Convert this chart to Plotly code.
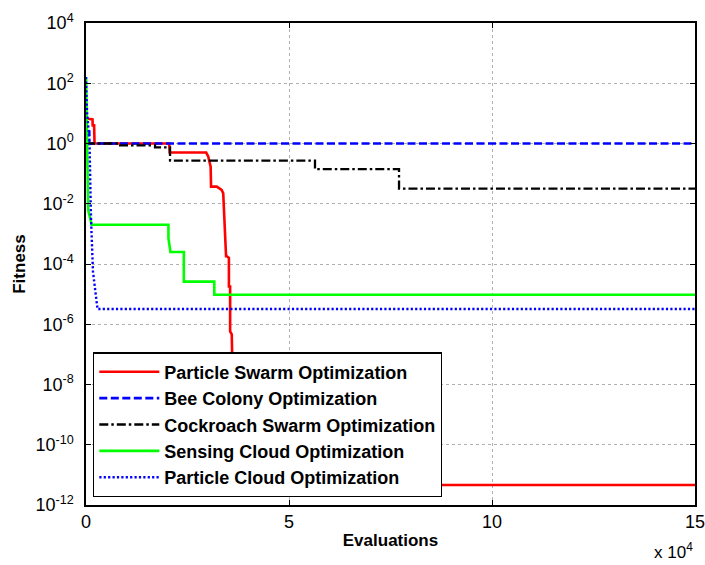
import plotly.graph_objects as go

# Evaluation counts and best fitness found, per optimizer
pso_x = [0, 600, 1600, 1650, 2000, 2100, 20500, 20600, 29600, 30100, 30700, 30800,
         32200, 33400, 33800, 34100, 34500, 34700, 35200, 35200, 35500, 35500,
         35900, 36000, 36200, 36500, 150000]
pso_y = [7.1, 6.6, 6.3, 4.0, 4.0, 1.0, 1.0, 0.50, 0.50, 0.37, 0.17, 0.037,
         0.037, 0.029, 0.022, 0.0026, 1.8e-4, 1.8e-4, 1.6e-4, 1.8e-5, 1.8e-5, 5.8e-7,
         4.6e-7, 1.0e-7, 1.0e-9, 4.6e-12, 4.6e-12]

bee_x = [0, 800, 800, 150000]
bee_y = [2.5, 2.5, 1.0, 1.0]

cso_x = [0, 8400, 17000, 20700, 56400, 77100, 150000]
cso_y = [1.0, 0.86, 0.74, 0.27, 0.14, 0.032, 0.032]

sco_x = [0, 200, 300, 550, 1400, 20300, 20300, 20800, 24100, 24100, 31600, 31600, 150000]
sco_y = [160, 3.0, 0.6, 0.006, 0.002, 0.002, 7.2e-4, 2.5e-4, 2.5e-4, 2.6e-5, 2.6e-5, 9.5e-6, 9.5e-6]

pco_x = [0, 250, 860, 1230, 1720, 2340, 2830, 150000]
pco_y = [160, 11.5, 1.2, 0.0033, 5.6e-5, 1.2e-5, 3.2e-6, 3.2e-6]

# Axis ticks
x_tickvals = [0, 50000, 100000, 150000]
x_ticktext = ["0", "5", "10", "15"]
y_exponents = [-12, -10, -8, -6, -4, -2, 0, 2, 4]
y_tickvals = [10.0 ** e for e in y_exponents]
y_ticktext = ["10<sup>%d</sup>" % e for e in y_exponents]

FONT = "Liberation Sans, Arial, sans-serif"

fig = go.Figure()
fig.add_trace(go.Scatter(x=pso_x, y=pso_y, mode="lines", name="Particle Swarm Optimization",
                         line=dict(color="#ff0000", width=2.6)))
fig.add_trace(go.Scatter(x=bee_x, y=bee_y, mode="lines", name="Bee Colony Optimization",
                         line=dict(color="#0000ff", width=2.6, dash="8px,3.5px")))
fig.add_trace(go.Scatter(x=cso_x, y=cso_y, mode="lines", name="Cockroach Swarm Optimization",
                         line=dict(color="#000000", width=2.3, dash="9px,3px,2.5px,3px", shape="hv")))
fig.add_trace(go.Scatter(x=sco_x, y=sco_y, mode="lines", name="Sensing Cloud Optimization",
                         line=dict(color="#00ff00", width=2.6)))
fig.add_trace(go.Scatter(x=pco_x, y=pco_y, mode="lines", name="Particle Cloud Optimization",
                         line=dict(color="#0000ff", width=2.4, dash="2.2px,2.2px")))

axis_common = dict(
    showline=True, linecolor="black", linewidth=1.5, mirror="ticks",
    ticks="inside", ticklen=5, tickwidth=1, tickcolor="black",
    showgrid=True, gridcolor="#b0b0b0", gridwidth=1, griddash="dot",
    zeroline=False, automargin=False, ticklabeloverflow="allow",
    tickfont=dict(family=FONT, size=18, color="black"),
)

fig.update_xaxes(range=[0, 150000], tickvals=x_tickvals, ticktext=x_ticktext,
                 title=dict(text="Evaluations", font=dict(family=FONT, size=17, weight="bold"),
                            standoff=3),
                 **axis_common)
fig.update_yaxes(type="log", range=[-12, 4], tickvals=y_tickvals, ticktext=y_ticktext,
                 title=dict(text="Fitness", font=dict(family=FONT, size=17, weight="bold"),
                            standoff=5),
                 ticklabelstandoff=7,
                 **axis_common)

fig.add_annotation(text="x 10<sup>4</sup>", xref="paper", yref="paper", x=1.0, y=-0.068,
                   xanchor="right", yanchor="top", showarrow=False,
                   font=dict(family=FONT, size=17, color="black"))

fig.update_layout(
    width=705, height=565,
    margin=dict(l=86, r=10, t=23, b=60),
    paper_bgcolor="white", plot_bgcolor="white",
    font=dict(family=FONT, size=17, color="black"),
    legend=dict(x=0.0115, y=0.317, xanchor="left", yanchor="top",
                bgcolor="white", bordercolor="black", borderwidth=1.3,
                font=dict(family=FONT, size=18, weight="bold", color="black"),
                itemwidth=60, tracegroupgap=0),
)

fig.write_html("out.html")
